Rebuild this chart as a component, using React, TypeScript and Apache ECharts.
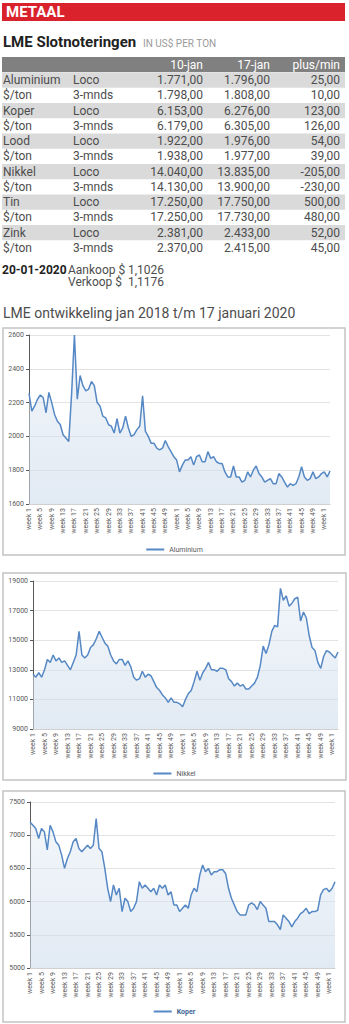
import React, { useEffect, useRef } from "react";
import * as echarts from "echarts";

// ---- Table data ----
const metals = ["Aluminium", "$/ton", "Koper", "$/ton", "Lood", "$/ton", "Nikkel", "$/ton", "Tin", "$/ton", "Zink", "$/ton"];
const terms = ["Loco", "3-mnds", "Loco", "3-mnds", "Loco", "3-mnds", "Loco", "3-mnds", "Loco", "3-mnds", "Loco", "3-mnds"];
const jan10 = ["1.771,00", "1.798,00", "6.153,00", "6.179,00", "1.922,00", "1.938,00", "14.040,00", "14.130,00", "17.250,00", "17.250,00", "2.381,00", "2.370,00"];
const jan17 = ["1.796,00", "1.808,00", "6.276,00", "6.305,00", "1.976,00", "1.977,00", "13.835,00", "13.900,00", "17.750,00", "17.730,00", "2.433,00", "2.415,00"];
const plusMin = ["25,00", "10,00", "123,00", "126,00", "54,00", "39,00", "-205,00", "-230,00", "500,00", "480,00", "52,00", "45,00"];
const tableHeader = ["10-jan", "17-jan", "plus/min"];

// ---- Chart categories (weeks 2018, 2019, 2020) ----
const weeks: string[] = [];
for (let w = 1; w <= 52; w++) weeks.push("week " + w);
for (let w = 1; w <= 52; w++) weeks.push("week " + w);
for (let w = 1; w <= 3; w++) weeks.push("week " + w);

// ---- Series values (weekly) ----
const aluminium = [
  2255, 2150, 2180, 2220, 2245, 2230, 2140, 2260, 2200, 2130,
  2090, 2070, 2010, 1990, 1970, 2250, 2600, 2220, 2360, 2300,
  2270, 2280, 2325, 2300, 2200, 2180, 2120, 2110, 2070, 2060,
  2020, 2105, 2020, 2050, 2120, 2050, 2000, 2010, 2040, 2060,
  2240, 2030, 2000, 1960, 1960, 1930, 1920, 1930, 1975, 1940,
  1910, 1880, 1860, 1790, 1830, 1860, 1860, 1880, 1830, 1880,
  1890, 1850, 1850, 1910, 1870, 1880, 1850, 1840, 1840, 1790,
  1760, 1760, 1825, 1760, 1760, 1730, 1740, 1790, 1760, 1800,
  1825, 1780, 1760, 1730, 1740, 1750, 1720, 1720, 1780, 1760,
  1730, 1700, 1720, 1710, 1720, 1760, 1820, 1760, 1740, 1750,
  1790, 1750, 1760, 1780, 1790, 1760, 1795,
];
const nikkel = [
  12700, 12500, 12800, 12500, 13000, 13700, 13500, 14000, 13600, 13800,
  13500, 13600, 13300, 13000, 13500, 14000, 15600, 14000, 13800, 14000,
  14500, 14700, 15100, 15600, 15200, 14800, 14600, 14000, 13600, 13400,
  13700, 13700, 13300, 13600, 13200, 12500, 12300, 12400, 12900, 12500,
  12700, 12600, 12200, 11800, 11600, 11300, 11100, 10800, 11100, 10800,
  10800, 10700, 10500, 11000, 11400, 11600, 12200, 12900, 12300, 12800,
  13100, 13500, 13000, 13000, 12900, 13100, 13100, 13000, 12400, 12200,
  11900, 12100, 11900, 12000, 11700, 11700, 11900, 12100, 12500, 13300,
  14600, 14100, 14700, 15600, 16000, 15900, 18500, 17700, 18000, 17300,
  17500, 17800, 17900, 16300, 16900, 16500, 15300, 14500, 14300, 13500,
  13100, 13900, 14300, 14200, 14000, 13800, 14200,
];
const koper = [
  7200, 7150, 7100, 6950, 7100, 7050, 6780, 7150, 7050, 6900,
  6850, 6700, 6500, 6650, 6750, 6900, 6950, 6800, 6750, 6800,
  6850, 6800, 6850, 7250, 6800, 6750, 6500, 6200, 6000, 6250,
  6100, 6200, 5850, 6050, 6000, 5850, 5900, 6000, 6300, 6200,
  6250, 6200, 6150, 6200, 6100, 6250, 6200, 6250, 6100, 6150,
  5950, 5950, 5850, 5900, 5950, 5900, 6100, 6200, 6150, 6400,
  6550, 6450, 6500, 6400, 6450, 6450, 6480, 6480, 6420, 6200,
  6050, 5950, 5850, 5800, 5800, 5800, 5950, 5980, 5950, 5880,
  6000, 5950, 5900, 5700, 5700, 5700, 5650, 5580, 5800, 5750,
  5700, 5620, 5700, 5750, 5820, 5850, 5900, 5820, 5850, 5850,
  5870, 6100, 6180, 6200, 6150, 6200, 6300,
];

const FONT = "Roboto, 'Noto Sans', sans-serif";
const LINE = "#5588c4";

export default function App() {
  const ref = useRef<HTMLDivElement>(null);
  useEffect(() => {
    if (!ref.current) return;
    const chart = echarts.init(ref.current, null, { renderer: "svg" });

    const g: any[] = [];
    // header
    g.push({ type: "rect", shape: { x: 2, y: 3, width: 343, height: 18 }, style: { fill: "#d9222c" } });
    g.push({ type: "text", x: 6, y: 12, style: { text: "METAAL", fill: "#fff", font: `bold 15px ${FONT}`, textVerticalAlign: "middle" } });
    g.push({ type: "text", x: 3, y: 42, style: { text: "LME Slotnoteringen", fill: "#222", font: `bold 15px ${FONT}`, textVerticalAlign: "middle" } });
    g.push({ type: "text", x: 143, y: 43, style: { text: "IN US$ PER TON", fill: "#9a9a9a", font: `10px ${FONT}`, textVerticalAlign: "middle" } });

    // table header
    g.push({ type: "rect", shape: { x: 2, y: 57, width: 343, height: 15 }, style: { fill: "#808080" } });
    const colX = [203, 270, 340];
    tableHeader.forEach((h, i) => {
      g.push({ type: "text", x: colX[i], y: 64.5, style: { text: h, fill: "#fff", font: `12px ${FONT}`, textAlign: "right", textVerticalAlign: "middle" } });
    });
    const rowH = 15.27;
    metals.forEach((m, i) => {
      const cy = 80 + rowH * i;
      if (i % 2 === 0) {
        g.push({ type: "rect", shape: { x: 2, y: cy - rowH / 2, width: 343, height: rowH }, style: { fill: "#dadada" } });
      }
      const st = (t: string, x: number, align: string) => ({
        type: "text", x, y: cy, style: { text: t, fill: "#4d4d4d", font: `12px ${FONT}`, textAlign: align, textVerticalAlign: "middle" },
      });
      g.push(st(m, 3, "left"));
      g.push(st(terms[i], 73, "left"));
      g.push(st(jan10[i], colX[0], "right"));
      g.push(st(jan17[i], colX[1], "right"));
      g.push(st(plusMin[i], colX[2], "right"));
    });

    // exchange rate
    g.push({ type: "text", x: 2, y: 270, style: { text: "20-01-2020", fill: "#222", font: `bold 12px ${FONT}`, textVerticalAlign: "middle" } });
    g.push({ type: "text", x: 68, y: 270, style: { text: "Aankoop $", fill: "#4d4d4d", font: `12px ${FONT}`, textVerticalAlign: "middle" } });
    g.push({ type: "text", x: 128, y: 270, style: { text: "1,1026", fill: "#4d4d4d", font: `12px ${FONT}`, textVerticalAlign: "middle" } });
    g.push({ type: "text", x: 68, y: 282, style: { text: "Verkoop $", fill: "#4d4d4d", font: `12px ${FONT}`, textVerticalAlign: "middle" } });
    g.push({ type: "text", x: 128, y: 282, style: { text: "1,1176", fill: "#4d4d4d", font: `12px ${FONT}`, textVerticalAlign: "middle" } });

    g.push({ type: "text", x: 3, y: 313, style: { text: "LME ontwikkeling jan 2018 t/m 17 januari 2020", fill: "#4d4d4d", font: `14px ${FONT}`, textVerticalAlign: "middle" } });

    // chart boxes
    const boxes = [
      { x: 3, y: 328, w: 342, h: 227 },
      { x: 3, y: 573, w: 343, h: 207 },
      { x: 3, y: 791, w: 342, h: 231 },
    ];
    boxes.forEach((b) => {
      g.push({ type: "rect", z: -1, shape: { x: b.x, y: b.y, width: b.w, height: b.h }, style: { fill: "#fff", stroke: "#c4c4c4", lineWidth: 1.5 } });
    });

    const grids = [
      { left: 29, top: 335, width: 301, height: 169 },
      { left: 33, top: 581, width: 305, height: 148 },
      { left: 30, top: 802, width: 305, height: 166 },
    ];
    const yCfg = [
      { min: 1600, max: 2600, interval: 200 },
      { min: 9000, max: 19000, interval: 2000 },
      { min: 5000, max: 7500, interval: 500 },
    ];
    const names = ["Aluminium", "Nikkel", "Koper"];
    const datas = [aluminium, nikkel, koper];
    const legendTops = [541, 765, 1003];

    const option: any = {
      animation: false,
      backgroundColor: "#fff",
      grid: grids,
      xAxis: grids.map((_, i) => ({
        type: "category",
        gridIndex: i,
        data: weeks,
        boundaryGap: false,
        axisLine: { show: true, lineStyle: { color: "#d0d0d0" } },
        axisTick: { show: false },
        axisLabel: { interval: 3, rotate: 90, fontSize: 7, color: "#595959", fontFamily: FONT, margin: 4 },
        splitLine: { show: false },
      })),
      yAxis: grids.map((_, i) => ({
        type: "value",
        gridIndex: i,
        min: yCfg[i].min,
        max: yCfg[i].max,
        interval: yCfg[i].interval,
        axisLine: { show: true, lineStyle: { color: "#595959", width: 1 } },
        axisTick: { show: true, length: 3, lineStyle: { color: "#595959" } },
        axisLabel: { fontSize: 7, color: "#595959", fontFamily: FONT, margin: 5, formatter: (v: number) => String(v) },
        splitLine: { show: true, lineStyle: { color: "#e3e3e3" } },
      })),
      legend: names.map((n, i) => ({
        data: [n],
        top: legendTops[i],
        left: "center",
        icon: "rect",
        itemWidth: 18,
        itemHeight: 2,
        itemGap: 4,
        textStyle: {
          fontSize: 7,
          color: i === 2 ? "#3d5f93" : "#595959",
          fontWeight: i === 2 ? "bold" : "normal",
          fontFamily: FONT,
        },
      })),
      series: datas.map((d, i) => ({
        name: names[i],
        type: "line",
        xAxisIndex: i,
        yAxisIndex: i,
        data: d,
        showSymbol: false,
        symbol: "none",
        lineStyle: { color: LINE, width: 1.5 },
        itemStyle: { color: LINE },
        areaStyle: {
          color: new echarts.graphic.LinearGradient(0, 0, 0, 1, [
            { offset: 0, color: "rgba(225,234,244,0.6)" },
            { offset: 1, color: "rgba(205,219,235,0.85)" },
          ]),
        },
      })),
      graphic: g,
    };
    chart.setOption(option);
    return () => chart.dispose();
  }, []);

  return (
    <div style={{ position: "fixed", left: 0, top: 0, width: 349, height: 1024, background: "#fff" }}>
      <div ref={ref} style={{ width: 349, height: 1024 }} />
    </div>
  );
}
